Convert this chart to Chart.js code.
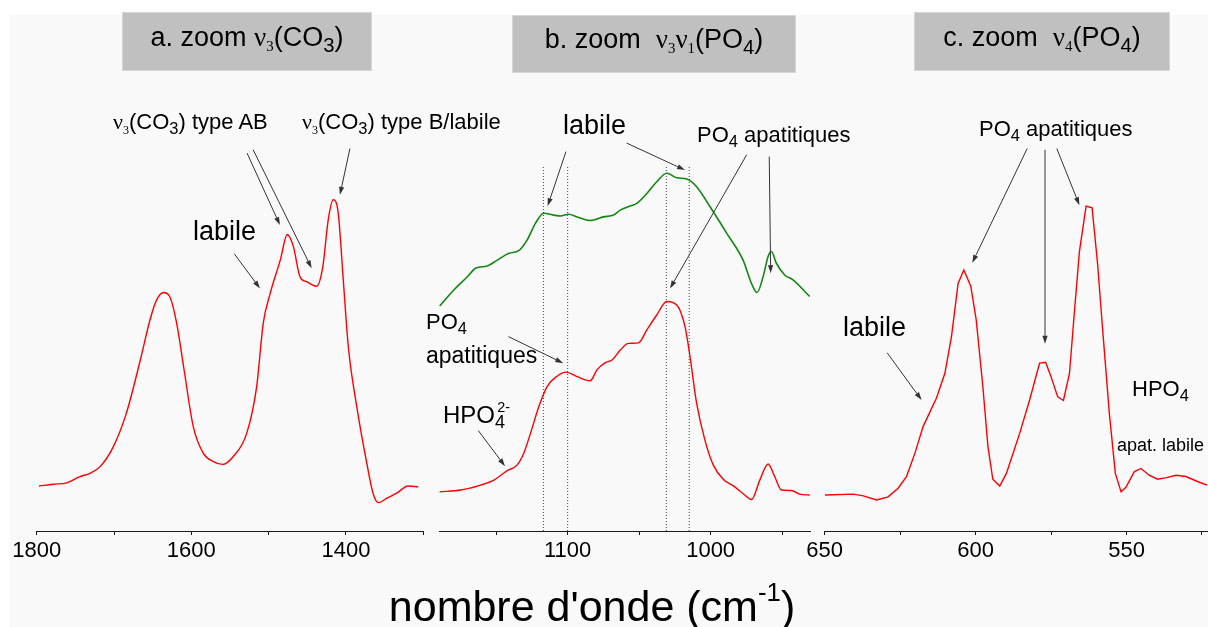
<!DOCTYPE html>
<html>
<head>
<meta charset="utf-8">
<script src="https://cdn.jsdelivr.net/npm/chart.js@4.4.1/dist/chart.umd.min.js"></script>
<style>
  html, body { margin: 0; padding: 0; background: #fff; }
  #stage { position: relative; width: 1208px; height: 627px; overflow: hidden;
           font-family: "Liberation Sans", Arial, sans-serif; color: #000; }
  #paper { position: absolute; left: 10px; top: 15px; right: 0; bottom: 0; background: #f9f9f9; }
  canvas { position: absolute; left: 0; top: 0; }
  .box { position: absolute; background: #c0c0c0; border: 1px solid #d6d6d6; box-sizing: border-box; }
  .lbl { position: absolute; white-space: nowrap; line-height: 1; }
  .nu { font-family: "Liberation Serif", "Times New Roman", serif; }
  .sn { font-size: 0.55em; position: relative; top: 0.35em; }
  .sb { font-size: 0.75em; position: relative; top: 0.3em; }
  .sp { font-size: 0.6em; position: relative; top: -0.75em; }
</style>
</head>
<body>
<div id="stage">
  <div id="paper"></div>
  <canvas id="chartA" width="1208" height="627"></canvas>
  <canvas id="chartB" width="1208" height="627"></canvas>
  <canvas id="chartC" width="1208" height="627"></canvas>
</div>
<script>
// ---- a. nu3(CO3) region (cm-1, absorbance a.u.)
const wnA = [1797,1778.5,1761,1744,1731,1718,1701,1684,1666,1653.5,1645,1636,1628,1619,1610,1597.5,1584.6,1571.6,1559.5,1546,
             1528.4,1515.5,1507,1498,1485,1476,1468,1459.5,1451,1438,1430,1423,1416.5,1410,1403.5,1397,1386,1373,1365,1358,
             1347,1334.5,1319.5,1306.5];
const absA = [10.0,10.4,10.7,12.1,12.8,14.3,18.7,26.2,38.0,46.9,51.3,53.0,52.1,46.2,36.5,23.2,17.3,15.4,14.8,16.5,
              21.7,32.1,46.2,52.8,60.2,65.9,63.2,56.5,55.4,54.4,58.7,69.1,73.6,70.6,55.8,41.0,27.6,15.0,8.4,6.3,
              7.3,8.4,10.0,9.8];

// ---- b. nu3 nu1(PO4) region: upper (green) and lower (red) spectra
const wnB1 = [1189.5,1179.5,1170.2,1164.4,1156.2,1149.2,1141.1,1134.2,1128.3,1122.5,1116.7,1109.8,1105.1,1099.3,1093.4,1084.2,
              1074.9,1067.9,1063.2,1056.3,1051.6,1044.6,1037.7,1030.7,1023.7,1016.7,1009.8,1000.5,988.8,977.3,971.4,967.5,
              963.3,959.8,957.5,954.0,948.2,942.4,930.7];
const absB1 = [50.0,53.6,56.5,58.4,58.9,60.2,61.7,62.3,64.7,68.4,70.6,70.2,70.0,70.4,69.8,69.0,
               69.8,70.2,71.3,72.2,72.8,75.0,77.6,79.5,78.5,78.2,76.5,72.1,66.2,60.2,55.0,53.0,
               56.5,61.0,62.1,59.5,56.9,55.8,52.1];
const wnB2 = [1189.5,1174.8,1160.9,1151.6,1142.3,1135.3,1130.7,1126.0,1120.2,1114.4,1107.4,1101.1,1093.4,1084.2,1079.5,1073.7,
              1069.0,1063.2,1057.5,1050.5,1044.6,1037.7,1030.7,1023.7,1017.9,1014.4,1009.8,1004.0,998.2,991.2,983.1,976.1,
              971.4,965.6,959.8,955.2,950.5,943.5,937.7,930.7];
const absB2 = [8.7,9.1,10.2,11.3,13.4,14.7,17.3,21.7,27.6,32.1,34.4,35.3,34.3,33.4,35.8,37.4,
               38.0,40.2,41.7,41.8,44.7,48.0,51.0,50.2,45.4,38.7,28.4,20.2,14.7,11.5,9.8,8.0,
               7.0,11.3,14.9,12.1,9.1,9.0,8.2,8.0];
// dotted guide lines (cm-1) and their top (a.u.)
const guideWn = [1117, 1100, 1031, 1015];
const guideTop = 81;

// ---- c. nu4(PO4) region
const wnC = [649.9,640.5,637.2,632.8,629.0,625.7,622.9,620.1,617.4,613.0,610.2,608.0,605.8,603.9,601.6,599.8,
             597.6,595.9,594.3,592.0,589.8,585.4,582.1,578.8,576.8,575.0,572.8,570.9,568.9,567.3,565.6,563.4,
             561.4,559.6,557.9,555.7,553.7,551.8,550.2,547.4,545.2,542.5,539.7,537.1,533.6,530.3,526.5,523.3];
const absC = [8.0,8.2,7.8,6.9,7.6,9.5,12.1,17.3,23.2,29.5,35.0,43.2,55.0,58.0,54.4,46.9,
              32.1,18.7,11.5,10.0,12.8,21.7,29.1,37.3,37.5,34.3,29.8,29.0,35.0,48.4,62.1,72.2,
              71.8,59.5,44.7,26.2,12.8,8.7,9.7,13.2,13.9,12.4,11.5,11.8,12.4,12.1,11.0,10.2];

// ---- axis ranges, tick steps and labelled ticks
const rangeA = [1300, 1800], stepA = 100, labelsA = [1800, 1600, 1400];
const rangeB = [930, 1190],  stepB = 50,  labelsB = [1100, 1000];
const rangeC = [523, 650],   stepC = 25,  labelsC = [650, 600, 550];

// ---- annotation arrows: [fromWn, fromAbs, toWn, toAbs]
const arrowsA = [[1528,84.0,1485.4,68.0],[1520,84.7,1444.4,58.4],[1394.9,85.0,1407.8,74.7],[1544.5,61.6,1511.2,53.9]];
const arrowsB = [[1101.2,84.3,1114,72.2],[1058.7,86.2,1017.9,80.2],[974.8,83.6,1028.4,53.9],
                 [959,83.2,958,57.3],[1141.5,43.2,1103.1,37.3],[1162.5,22.3,1143.8,14.4]];
const arrowsC = [[582.9,85.0,601.1,59.6],[577,84.7,577,41.6],[573.1,85.0,565.6,72.4],[629.3,39.6,617.9,29.1]];

const RED = '#ff0000', GREEN = '#118811', INK = '#1a1a1a';
const FONT = '"Liberation Sans", Arial, sans-serif';

const pts = (xs, ys) => xs.map((v, i) => ({ x: v, y: ys[i] }));

function arrowLayer(list) {
  return {
    id: 'arrowLayer',
    afterDatasetsDraw(chart) {
      const { ctx } = chart, sx = chart.scales.x, sy = chart.scales.y;
      ctx.save();
      ctx.strokeStyle = '#333'; ctx.fillStyle = '#333'; ctx.lineWidth = 1;
      for (const a of list) {
        const x0 = sx.getPixelForValue(a[0]), y0 = sy.getPixelForValue(a[1]);
        const x1 = sx.getPixelForValue(a[2]), y1 = sy.getPixelForValue(a[3]);
        const ang = Math.atan2(y1 - y0, x1 - x0), L = 8, W = 2.6;
        const bx = x1 - L * Math.cos(ang), by = y1 - L * Math.sin(ang);
        ctx.beginPath(); ctx.moveTo(x0, y0); ctx.lineTo(bx, by); ctx.stroke();
        ctx.beginPath(); ctx.moveTo(x1, y1);
        ctx.lineTo(bx + W * Math.sin(ang), by - W * Math.cos(ang));
        ctx.lineTo(bx - W * Math.sin(ang), by + W * Math.cos(ang));
        ctx.closePath(); ctx.fill();
      }
      ctx.restore();
    }
  };
}

function spectrumChart(id, cfg) {
  return new Chart(document.getElementById(id), {
    type: 'line',
    data: { datasets: cfg.datasets },
    options: {
      responsive: false, animation: false, devicePixelRatio: 1,
      layout: { padding: { left: cfg.left, right: 1208 - cfg.right, top: 81, bottom: 56 } },
      plugins: { legend: { display: false }, tooltip: { enabled: false } },
      elements: { point: { radius: 0 } },
      scales: {
        x: {
          type: 'linear', reverse: true, min: cfg.range[0], max: cfg.range[1],
          afterFit: s => { s.height = 40; },
          border: { display: true, color: INK, width: 1 },
          grid: { display: true, drawOnChartArea: false, drawTicks: true, tickLength: 4, color: INK, lineWidth: 1 },
          ticks: {
            stepSize: cfg.step, includeBounds: false, autoSkip: false, maxRotation: 0, padding: 3,
            color: '#000', font: { family: FONT, size: 22 },
            callback: v => cfg.labels.includes(v) ? String(v) : ''
          }
        },
        y: { display: false, min: 0, max: 100 }
      }
    },
    plugins: [arrowLayer(cfg.arrows)]
  });
}

const line = (data, color, extra) => Object.assign({
  data, borderColor: color, borderWidth: 1.4, pointRadius: 0, fill: false, cubicInterpolationMode: 'monotone'
}, extra || {});

spectrumChart('chartA', {
  left: 36.7, right: 423.3, range: rangeA, step: stepA, labels: labelsA, arrows: arrowsA,
  datasets: [line(pts(wnA, absA), RED)]
});

spectrumChart('chartB', {
  left: 439, right: 810.7, range: rangeB, step: stepB, labels: labelsB, arrows: arrowsB,
  datasets: [
    line(pts(wnB1, absB1), GREEN, { borderWidth: 1.6 }),
    line(pts(wnB2, absB2), RED),
    ...guideWn.map(w => ({
      data: [{ x: w, y: 0 }, { x: w, y: guideTop }], borderColor: '#444', borderWidth: 1,
      borderDash: [1, 2], pointRadius: 0, fill: false
    }))
  ]
});

spectrumChart('chartC', {
  left: 824.7, right: 1208, range: rangeC, step: stepC, labels: labelsC, arrows: arrowsC,
  datasets: [line(pts(wnC, absC), RED, { cubicInterpolationMode: 'default', tension: 0 })]
});

// ---- panel headers and text annotations
const stage = document.getElementById('stage');
const boxes = [[122, 12, 250, 59], [512, 15, 284, 58], [914, 12, 256, 59]];
boxes.forEach(([x, y, w, h]) => {
  const d = document.createElement('div');
  d.className = 'box';
  Object.assign(d.style, { left: x + 'px', top: y + 'px', width: w + 'px', height: h + 'px' });
  stage.appendChild(d);
});

const NU = (sub) => '<span class="nu">\u03bd<span class="sn">' + sub + '</span></span>';
const SB = (t) => '<span class="sb">' + t + '</span>';
const texts = [
  { x: 247, b: 47, s: 27, c: true, h: 'a. zoom ' + NU('3') + '(CO' + SB('3') + ')' },
  { x: 654, b: 49, s: 27, c: true, h: 'b. zoom &nbsp;' + NU('3') + NU('1') + '(PO' + SB('4') + ')' },
  { x: 1042, b: 47, s: 27, c: true, h: 'c. zoom &nbsp;' + NU('4') + '(PO' + SB('4') + ')' },
  { x: 113, b: 130, s: 22, h: NU('3') + '(CO' + SB('3') + ') type AB' },
  { x: 302, b: 130, s: 22, h: NU('3') + '(CO' + SB('3') + ') type B/labile' },
  { x: 193, b: 241, s: 27, h: 'labile' },
  { x: 563, b: 135, s: 27, h: 'labile' },
  { x: 697, b: 143, s: 22, h: 'PO' + SB('4') + ' apatitiques' },
  { x: 426, b: 330, s: 22, h: 'PO' + SB('4') },
  { x: 426, b: 363, s: 23, h: 'apatitiques' },
  { x: 443, b: 423, s: 24, h: 'HPO' + SB('4') + '<span class="sp" style="margin-left:-0.55em">2-</span>' },
  { x: 979, b: 137, s: 22, h: 'PO' + SB('4') + ' apatitiques' },
  { x: 843, b: 337, s: 27, h: 'labile' },
  { x: 1132, b: 397, s: 22, h: 'HPO' + SB('4') },
  { x: 1117, b: 451, s: 18, h: 'apat. labile' },
  { x: 592, b: 621, s: 43, c: true, h: 'nombre d\'onde (cm<span class="sp">-1</span>)' }
];
texts.forEach(t => {
  const d = document.createElement('div');
  d.className = 'lbl';
  d.innerHTML = t.h;
  d.style.fontSize = t.s + 'px';
  d.style.top = (t.b - 0.8465 * t.s) + 'px';
  d.style.left = t.x + 'px';
  if (t.c) d.style.transform = 'translateX(-50%)';
  stage.appendChild(d);
});
</script>
</body>
</html>
